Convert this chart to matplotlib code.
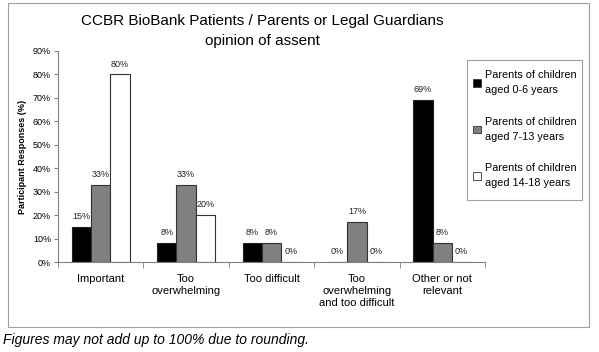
import matplotlib
matplotlib.use("Agg")
import matplotlib.pyplot as plt
import matplotlib.patches as mpatches
import numpy as np

categories = ["Important", "Too\noverwhelming", "Too difficult",
              "Too\noverwhelming\nand too difficult", "Other or not\nrelevant"]
series_names = ["Parents of children\naged 0-6 years",
                "Parents of children\naged 7-13 years",
                "Parents of children\naged 14-18 years"]
age_0_6 = [15, 8, 8, 0, 69]
age_7_13 = [33, 33, 8, 17, 8]
age_14_18 = [80, 20, 0, 0, 0]
yticks = [0, 10, 20, 30, 40, 50, 60, 70, 80, 90]

plt.rcParams['font.family'] = ['Liberation Sans', 'DejaVu Sans']

fig = plt.figure(figsize=(5.99, 3.52), dpi=100)
fig.patches.append(mpatches.Rectangle((8/599, 1-327/352), (589-8)/599, (327-3)/352,
                                      transform=fig.transFigure, fill=False,
                                      edgecolor='#a0a0a0', linewidth=0.8))
# legend frame
fig.patches.append(mpatches.Rectangle((467/599, 1-200/352), (582-467)/599, (200-60)/352,
                                      transform=fig.transFigure, fill=False,
                                      edgecolor='#a0a0a0', linewidth=0.8))
ax = fig.add_axes([58/599, 1-262/352, (485-58)/599, (262-51)/352])

x = np.arange(len(categories))
w = 0.225
colors = ['black', '#808080', 'white']
edges = ['#222222', '#333333', '#333333']
data = [age_0_6, age_7_13, age_14_18]
for i, (vals, c, ec, name) in enumerate(zip(data, colors, edges, series_names)):
    pos = x + (i - 1) * w
    ax.bar(pos, vals, width=w, color=c, edgecolor=ec, linewidth=0.8, label=name)
    for p, v in zip(pos, vals):
        ax.text(p, v + 2.5, f"{v}%", ha='center', va='bottom', fontsize=6.5, color='#222222')

ax.set_xlim(-0.5, len(categories) - 0.5)
ax.set_ylim(0, 90)
ax.set_yticks(yticks)
ax.set_yticklabels([f"{t}%" for t in yticks], fontsize=6.5)
ax.set_xticks(x)
ax.set_xticklabels(categories, fontsize=8)
ax.tick_params(axis='x', which='major', length=0, pad=9)
ax.set_xticks(np.arange(len(categories) + 1) - 0.5, minor=True)
ax.tick_params(axis='x', which='minor', length=4, direction='out', color='#808080')
ax.tick_params(axis='y', length=3, color='#808080', pad=2)
for s in ['top', 'right']:
    ax.spines[s].set_visible(False)
for s in ['left', 'bottom']:
    ax.spines[s].set_color('#808080')
    ax.spines[s].set_linewidth(0.8)

ax.set_ylabel("Participant Responses (%)", fontsize=6.5, fontweight='bold', labelpad=4)

fig.text(262/599, 1-31/352, "CCBR BioBank Patients / Parents or Legal Guardians\nopinion of assent",
         ha='center', va='center', fontsize=11, linespacing=1.55)

handles = [mpatches.Patch(facecolor=c, edgecolor='#333333', linewidth=0.6) for c in colors]
leg = fig.legend(handles, series_names, loc='upper left',
                 bbox_to_anchor=(467.5/599, 1-65/352), fontsize=7.8,
                 frameon=False, borderaxespad=0,
                 handlelength=0.7, handleheight=0.7, handletextpad=0.4,
                 labelspacing=2.0, borderpad=0.5)
for t in leg.get_texts():
    t.set_linespacing(1.6)

fig.text(3/599, 1-340/352, "Figures may not add up to 100% due to rounding.",
         ha='left', va='center', fontsize=10, style='italic')

fig.savefig("out.png", dpi=100)
